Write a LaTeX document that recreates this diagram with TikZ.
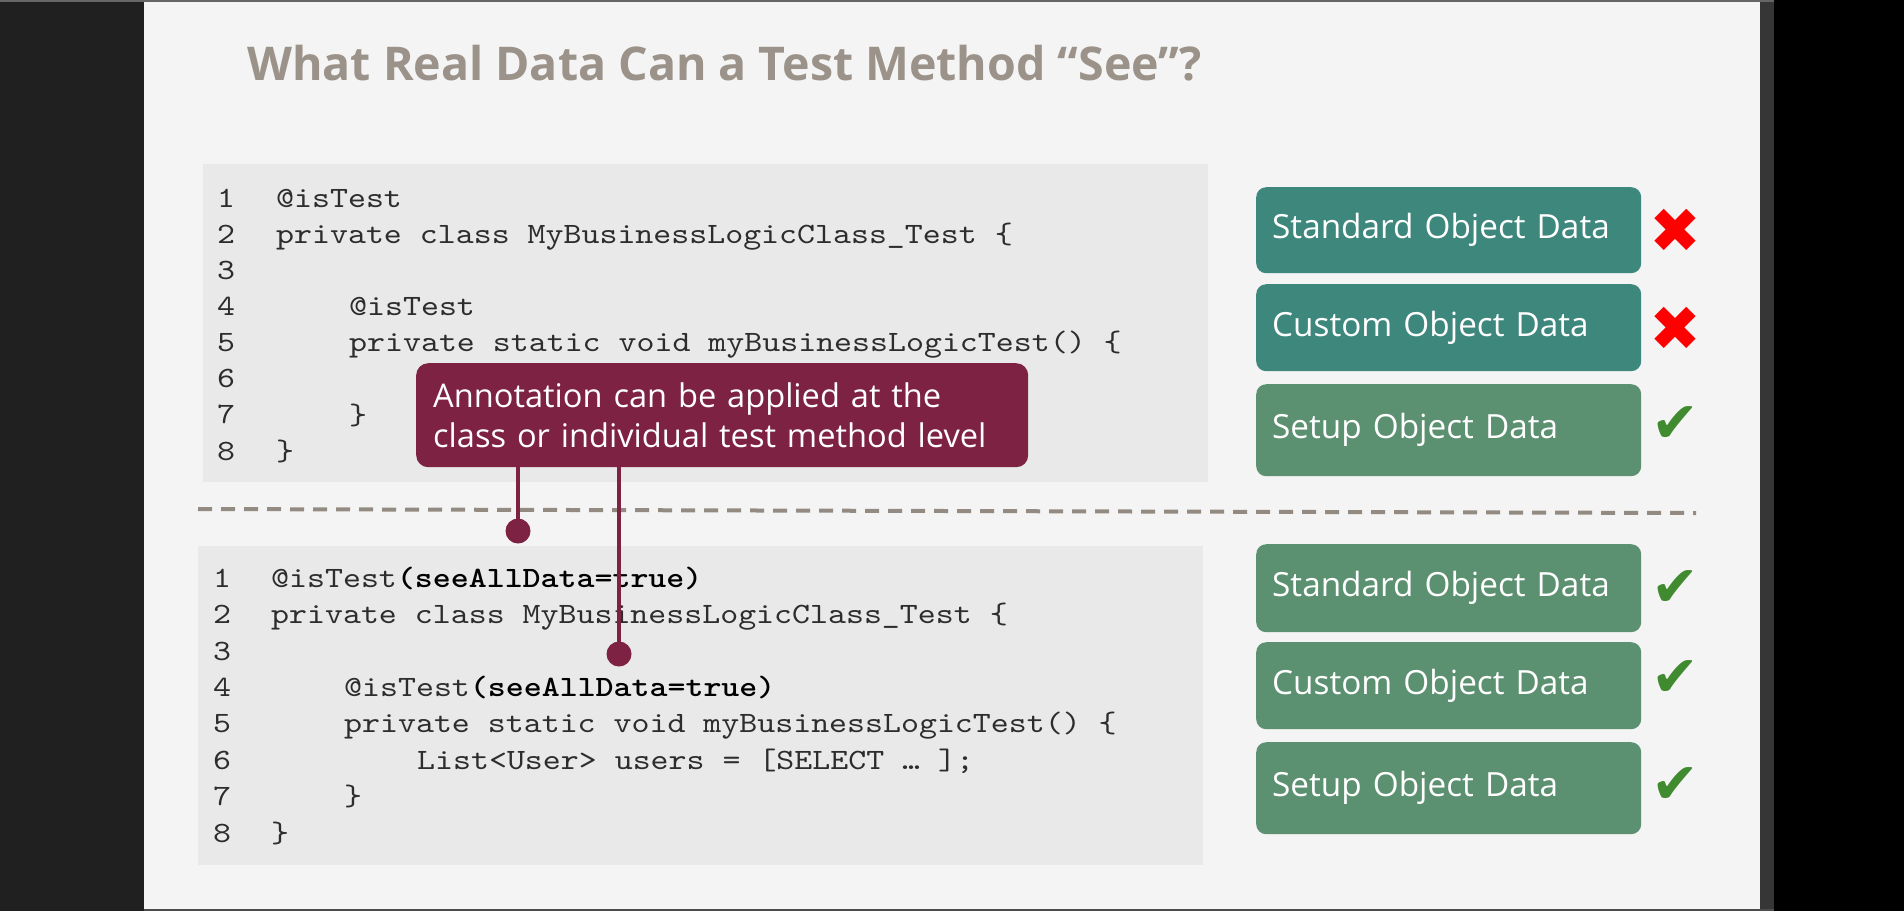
\documentclass[tikz,border=0pt]{standalone}
\usepackage{fontspec}
\setmainfont{Open Sans}
\newfontfamily\codefont{lmmono10-regular.otf}[FakeStretch=1.16,BoldFont=lmmonolt10-bold.otf]
\newfontfamily\symfont{DejaVu Sans}
\definecolor{slidebg}{RGB}{244,244,244}
\definecolor{codebg}{RGB}{233,233,233}
\definecolor{framedark}{RGB}{32,32,32}
\definecolor{titlegray}{RGB}{155,146,137}
\definecolor{codegray}{RGB}{45,45,45}
\definecolor{tealbox}{RGB}{61,135,125}
\definecolor{greenbox}{RGB}{91,145,112}
\definecolor{notered}{RGB}{125,34,66}
\definecolor{checkgreen}{RGB}{64,138,48}

\begin{document}
\begin{tikzpicture}[x=1pt,y=-1pt,
    code/.style={anchor=base west,inner sep=0pt,text=codegray,font=\codefont\fontsize{29.5}{36}\selectfont},
    databox/.style={anchor=north west,rounded corners=10pt,minimum width=385pt,inner xsep=16pt,
      text width=353pt,align=left,text=white,font=\fontsize{33.3}{40}\selectfont},
    nomark/.style={text=red,font=\symfont\fontsize{62}{62}\selectfont,inner sep=0pt},
    okmark/.style={text=checkgreen,font=\symfont\fontsize{57}{57}\selectfont,inner sep=0pt},
    pin/.style={circle,fill=notered,inner sep=0pt,minimum size=25pt},
    pinline/.style={draw=notered,line width=4pt}]
        \useasboundingbox (0,0) rectangle (1904,911);
        % frame of the slide
        \fill[black] (0,0) rectangle (1904,911);
        \fill[framedark] (0,0) rectangle (144,911);
        \fill[framedark!90!white] (1760,0) rectangle (1774,911);
        \fill[slidebg] (144,2) rectangle (1760,909);
        \fill[gray!80!black] (0,0) rectangle (1774,2);
        \fill[gray!60!black] (144,909) rectangle (1774,911);

        \node (title) at (247,80) [anchor=base west,inner sep=0pt,text=titlegray,
          font=\bfseries\fontsize{46.5}{55}\selectfont] {What Real Data Can a Test Method “See”?};

        % code without seeAllData
        \fill[codebg] (203,164) rectangle (1208,482);
        \foreach \n in {1,...,8}
          \node (na\n) at (217,{207+(\n-1)*36.15}) [code] {\n};
        \node (ca1) at (276,207) [code] {@isTest};
        \node (ca2) at (276,243.2) [code] {private class MyBusinessLogicClass\_Test \{};
        \node (ca4) at (349,315.5) [code] {@isTest};
        \node (ca5) at (349,351.6) [code] {private static void myBusinessLogicTest() \{};
        \node (ca7) at (349,424) [code] {\}};
        \node (ca8) at (276,460) [code] {\}};

        \draw[titlegray!95!black,line width=4pt,dash pattern=on 14pt off 9pt] (198,509) -- (1696,513);

        % code with seeAllData
        \fill[codebg] (198,546) rectangle (1203,865);
        \foreach \n in {1,...,8}
          \node (nb\n) at (213,{587.3+(\n-1)*36.4}) [code] {\n};
        \node (cb1) at (271,587.3) [code] {@isTest\textcolor{black}{\bfseries(seeAllData=true)}};
        \node (cb2) at (271,623.7) [code] {private class MyBusinessLogicClass\_Test \{};
        \node (cb4) at (344,696.5) [code] {@isTest\textcolor{black}{\bfseries(seeAllData=true)}};
        \node (cb5) at (344,732.9) [code] {private static void myBusinessLogicTest() \{};
        \node (cb6) at (417,769.3) [code] {List<User> users = [SELECT … ];};
        \node (cb7) at (344,805.7) [code] {\}};
        \node (cb8) at (271,842.1) [code] {\}};

        % data boxes
        \node (std1) at (1256,187) [databox,fill=tealbox,minimum height=86pt] {Standard Object Data};
        \node (cus1) at (1256,284) [databox,fill=tealbox,minimum height=87pt] {Custom Object Data};
        \node (set1) at (1256,384) [databox,fill=greenbox,minimum height=92pt] {Setup Object Data};
        \node (std2) at (1256,544) [databox,fill=greenbox,minimum height=88pt] {Standard Object Data};
        \node (cus2) at (1256,642) [databox,fill=greenbox,minimum height=87pt] {Custom Object Data};
        \node (set2) at (1256,742) [databox,fill=greenbox,minimum height=92pt] {Setup Object Data};

        \node (mk1) at (1675,231) [nomark] {✖};
        \node (mk2) at (1675,328.5) [nomark] {✖};
        \node (mk3) at (1675,425) [okmark] {✔};
        \node (mk4) at (1675,589) [okmark] {✔};
        \node (mk5) at (1675,679) [okmark] {✔};
        \node (mk6) at (1675,786) [okmark] {✔};

        % annotation callout
        \node (note) at (416,363) [anchor=north west,fill=notered,rounded corners=12pt,
          minimum width=612pt,minimum height=104pt,inner xsep=17pt,text width=578pt,align=left,
          text=white,font=\fontsize{32.6}{40}\selectfont]
          {Annotation can be applied at the\\class or individual test method level};
        \node (pinclass) at (518,531) [pin] {};
        \node (pinmethod) at (619,654) [pin] {};
        \draw[pinline] (note.south -| pinclass) -- (pinclass.center);
        \draw[pinline] (note.south -| pinmethod) -- (pinmethod.center);
\end{tikzpicture}
\end{document}
